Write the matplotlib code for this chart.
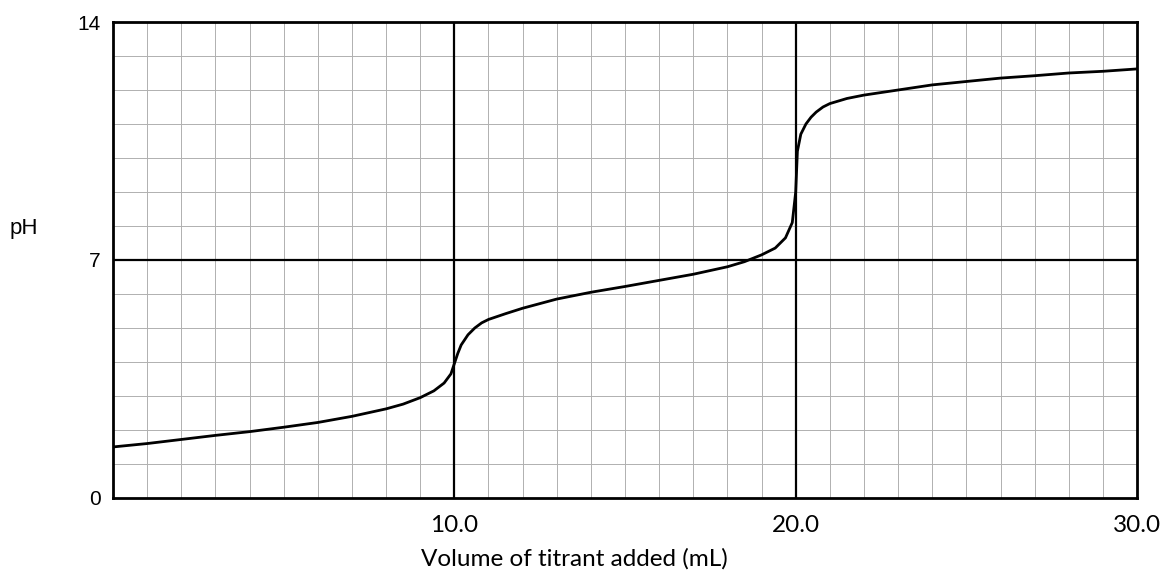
import numpy as np
import matplotlib
matplotlib.use("Agg")
import matplotlib.pyplot as plt

# titration curve
volume = [0, 1, 2, 3, 4, 5, 6, 7, 8, 8.5, 9, 9.4, 9.7, 9.9, 10.0, 10.1, 10.2,
          10.4, 10.6, 10.8, 11, 11.5, 12, 13, 14, 15, 16, 17, 18, 18.5, 19,
          19.4, 19.7, 19.9, 20.0, 20.05, 20.15, 20.3, 20.45, 20.6, 20.8, 21,
          21.5, 22, 23, 24, 25, 26, 27, 28, 29, 30]
ph = [1.5, 1.6, 1.72, 1.84, 1.95, 2.08, 2.22, 2.4, 2.62, 2.76, 2.95, 3.15,
      3.38, 3.65, 3.95, 4.25, 4.5, 4.8, 5.0, 5.15, 5.25, 5.42, 5.58, 5.85,
      6.05, 6.22, 6.4, 6.58, 6.8, 6.95, 7.15, 7.35, 7.65, 8.1, 9.0, 10.2,
      10.7, 11.0, 11.2, 11.35, 11.5, 11.6, 11.75, 11.85, 12.0, 12.15, 12.25,
      12.35, 12.42, 12.5, 12.55, 12.62]

x_ticks = [10, 20, 30]
x_tick_labels = ["10.0", "20.0", "30.0"]
y_ticks = [0, 7, 14]
y_tick_labels = ["0", "7", "14"]

fig = plt.figure(figsize=(11.65, 5.79), dpi=100)
ax = fig.add_axes([0.097, 0.140, 0.879, 0.822])

# fine grid: every 1 mL and every 1 pH unit
for v in np.arange(1, 30):
    ax.axvline(v, color="#b0b0b0", lw=0.7, zorder=1)
for p in np.arange(1, 14):
    ax.axhline(p, color="#b0b0b0", lw=0.7, zorder=1)

# heavy reference lines
ax.axvline(10, color="black", lw=1.6, zorder=2)
ax.axvline(20, color="black", lw=1.6, zorder=2)
ax.axhline(7, color="black", lw=1.6, zorder=2)

ax.plot(volume, ph, color="black", lw=2.0, zorder=3)

ax.set_xlim(0, 30)
ax.set_ylim(0, 14)
for s in ax.spines.values():
    s.set_linewidth(2.0)

ax.set_xticks(x_ticks)
ax.set_xticklabels(x_tick_labels, fontfamily="Lato", fontsize=17.5)
ax.set_yticks(y_ticks)
ax.set_yticklabels(y_tick_labels, fontfamily="Liberation Sans", fontsize=15)
ax.tick_params(axis="both", length=0)
ax.tick_params(axis="x", pad=12)
ax.tick_params(axis="y", pad=9)

fig.text(0.493, 0.035, "Volume of titrant added (mL)", fontfamily="Lato",
         fontsize=17.5, ha="center", va="center")
fig.text(0.008, 0.605, "pH", fontfamily="Liberation Sans", fontsize=16,
         va="center", ha="left")

plt.savefig("out.png", dpi=100)
